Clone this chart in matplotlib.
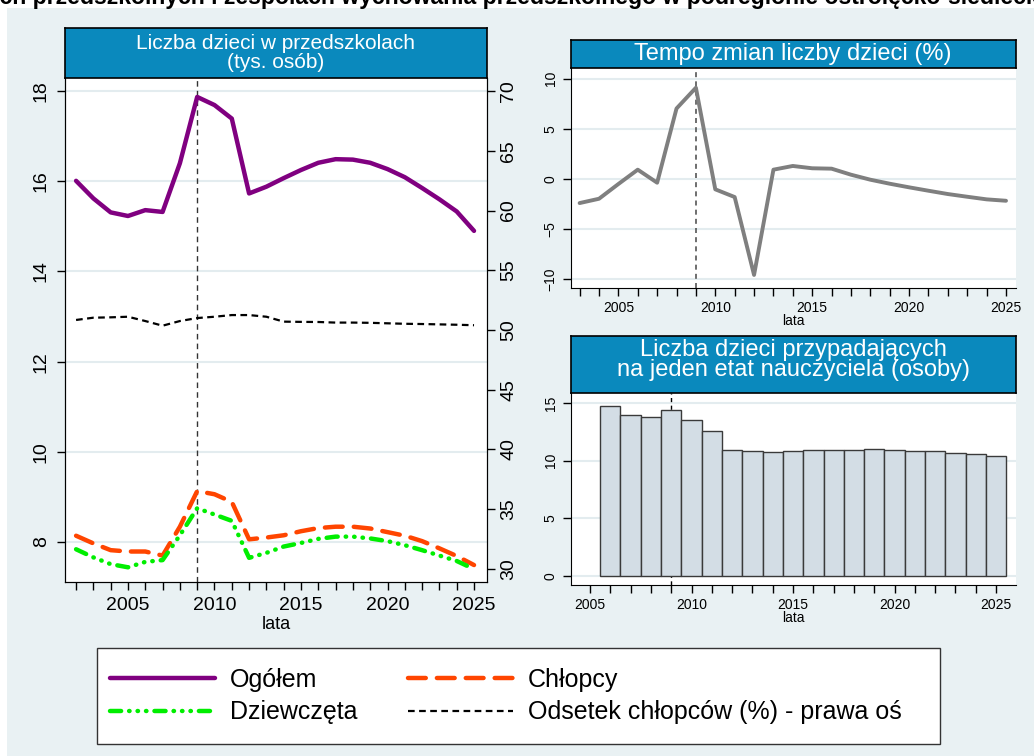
"""
Preschool children in the podregion: counts, growth rate and children per teacher
"""
import matplotlib
matplotlib.use("Agg")
import matplotlib.pyplot as plt
from matplotlib.patches import Rectangle
from matplotlib.lines import Line2D

# ---- data ----
years = list(range(2002, 2026))
ogolem = [16.01, 15.62, 15.31, 15.23, 15.36, 15.32, 16.40, 17.87, 17.69, 17.39,
          15.73, 15.88, 16.07, 16.25, 16.41, 16.49, 16.48, 16.41, 16.27, 16.09,
          15.85, 15.60, 15.33, 14.90]
chlopcy = [8.14, 7.97, 7.82, 7.79, 7.79, 7.70, 8.34, 9.13, 9.06, 8.89,
           8.06, 8.10, 8.15, 8.24, 8.31, 8.34, 8.34, 8.30, 8.22, 8.14,
           8.02, 7.86, 7.69, 7.49]
dziewczeta = [7.84, 7.66, 7.51, 7.44, 7.56, 7.60, 8.15, 8.75, 8.61, 8.47,
              7.65, 7.76, 7.90, 7.98, 8.07, 8.12, 8.12, 8.08, 8.02, 7.93,
              7.82, 7.70, 7.58, 7.40]
odsetek = [50.84, 51.03, 51.06, 51.11, 50.75, 50.36, 50.75, 51.00, 51.11, 51.25,
           51.25, 51.11, 50.70, 50.68, 50.67, 50.62, 50.62, 50.60, 50.56, 50.52,
           50.50, 50.47, 50.44, 50.40]

years_tempo = list(range(2003, 2026))
tempo = [-2.40, -1.97, -0.50, 0.93, -0.37, 7.03, 9.10, -1.03, -1.80, -9.57,
         0.93, 1.30, 1.07, 1.03, 0.43, -0.07, -0.47, -0.83, -1.17, -1.50,
         -1.77, -2.03, -2.17]

years_etat = list(range(2006, 2026))
etat = [14.74, 13.95, 13.84, 14.39, 13.52, 12.56, 10.90, 10.81, 10.76, 10.87,
        10.90, 10.96, 10.96, 11.02, 10.96, 10.87, 10.87, 10.70, 10.55, 10.38]

marker_year = 2009

main_title = ("Liczba dzieci w przedszkolach, oddziałach przedszkolnych i zespołach "
              "wychowania przedszkolnego w podregionie ostrołęcko-siedleckim")
title_prefix = "Liczba dzieci w przedszkolach, oddziała"

W, H = 1034, 756
PANEL_BG = "#e9f1f3"
BOX_BLUE = "#0a89bd"
GRID = "#e3ecef"


def fx(px):
    return px / W


def fy(py):
    return 1 - py / H


def title_box(fig, left, top, right, bottom, text, size, spacing, ypos=0.5):
    bx = fig.add_axes([fx(left), fy(bottom), fx(right - left), (bottom - top) / H])
    bx.set_facecolor(BOX_BLUE)
    bx.set_xticks([])
    bx.set_yticks([])
    for s in bx.spines.values():
        s.set_color("black")
        s.set_linewidth(1.2)
    bx.text(0.5, ypos, text, color="white", fontsize=size, ha="center",
            va="center", linespacing=spacing, transform=bx.transAxes)
    return bx


def style_axis(ax, xlim, ylim, yticks, xminor, size, pad=3.5):
    ax.set_xlim(*xlim)
    ax.set_ylim(*ylim)
    ax.set_yticks(yticks)
    ax.set_xticks([2005, 2010, 2015, 2020, 2025])
    ax.set_xticks(xminor, minor=True)
    ax.tick_params(axis="both", which="both", length=6, width=1, color="black",
                   labelsize=size, direction="out", pad=pad)
    ax.tick_params(axis="y", labelrotation=90)
    for lab in ax.get_yticklabels():
        lab.set_va("center")
    ax.grid(axis="y", color=GRID, linewidth=1.5)
    ax.set_axisbelow(True)
    ax.spines["top"].set_visible(False)
    ax.spines["right"].set_visible(False)


def main():
    plt.rcParams["font.family"] = ["Liberation Sans", "DejaVu Sans"]

    fig = plt.figure(figsize=(W / 100, H / 100), dpi=100)
    fig.patch.set_facecolor("white")
    fig.patches.append(Rectangle((fx(7), 0), 1 - fx(7), fy(8), transform=fig.transFigure,
                                 facecolor=PANEL_BG, edgecolor="none", zorder=-10))

    # title at the very top, clipped by the image edge as in the source
    renderer = fig.canvas.get_renderer()
    probe = fig.text(0, 0, title_prefix, fontsize=16.6, fontweight="bold")
    shift = probe.get_window_extent(renderer).width / W
    probe.remove()
    fig.text(-shift, fy(4), main_title, fontsize=16.6, fontweight="bold",
             ha="left", va="baseline")

    # ---- left: counts ----
    ax = fig.add_axes([fx(65), fy(582), fx(487 - 65), (582 - 78) / H])
    style_axis(ax, (2001.36, 2025.75), (7.114, 18.29), [8, 10, 12, 14, 16, 18],
               years, 14, pad=5)
    ax.spines["right"].set_visible(True)
    ax.set_xlabel("lata", fontsize=13, labelpad=1)
    ax.axvline(marker_year, color="#333333", linewidth=1, dashes=(4, 3), zorder=1)
    ax.plot(years, ogolem, color="#800080", linewidth=3.2,
            solid_capstyle="round", zorder=3)
    ax.plot(years, chlopcy, color="#ff4500", linewidth=3.2,
            dashes=(4, 2.5), dash_capstyle="round", zorder=3)
    ax.plot(years, dziewczeta, color="#00ee00", linewidth=3.2,
            dashes=(2.5, 1.8, 0.1, 1.8, 0.1, 1.8, 0.1, 1.8),
            dash_capstyle="round", zorder=3)
    ax2 = ax.twinx()
    ax2.set_ylim(28.91, 71.09)
    ax2.set_yticks([30, 35, 40, 45, 50, 55, 60, 65, 70])
    ax2.tick_params(axis="y", length=6, width=1, labelsize=14, labelrotation=90)
    for lab in ax2.get_yticklabels():
        lab.set_va("center")
    ax2.spines["top"].set_visible(False)
    ax2.plot(years, odsetek, color="black", linewidth=1.6, dashes=(3, 2))
    title_box(fig, 65, 28, 487, 78, "Liczba dzieci w przedszkolach\n(tys. osób)", 15, 1.0)

    # ---- top right: growth rate ----
    at = fig.add_axes([fx(570.7), fy(288), fx(1015.7 - 570.7), (288 - 68.3) / H])
    style_axis(at, (2002.54, 2025.5), (-10.87, 11.04), [-10, -5, 0, 5, 10],
               years_tempo, 10)
    at.set_xlabel("lata", fontsize=10, labelpad=-1)
    at.axvline(marker_year, color="#555555", linewidth=1.2, dashes=(3, 2.5), zorder=1)
    at.plot(years_tempo, tempo, color="#7f7f7f", linewidth=2.8,
            solid_capstyle="round", solid_joinstyle="round", zorder=3)
    title_box(fig, 570.7, 40, 1015.7, 68.3, "Tempo zmian liczby dzieci (%)", 17, 1.0)

    # ---- bottom right: children per teacher ----
    ab = fig.add_axes([fx(570.7), fy(585), fx(1016 - 570.7), (585 - 393.3) / H])
    style_axis(ab, (2004.05, 2025.98), (-0.81, 15.87), [0, 5, 10, 15],
               list(range(2005, 2026)), 10)
    ab.set_xlabel("lata", fontsize=10, labelpad=-1)
    ab.axvline(marker_year, color="black", linewidth=1, dashes=(3, 2.5), zorder=1)
    ab.bar(years_etat, etat, width=1.0, color="#d3dde5", edgecolor="#3a3a3a",
           linewidth=1.0, zorder=2)
    title_box(fig, 570.7, 336, 1016, 393.3,
              "Liczba dzieci przypadających\nna jeden etat nauczyciela (osoby)", 17, 0.85,
              ypos=0.58)

    # ---- legend ----
    fig.patches.append(Rectangle((fx(97), fy(744)), fx(940 - 97), (744 - 648) / H,
                                 transform=fig.transFigure, facecolor="white",
                                 edgecolor="#333333", linewidth=1, zorder=0))
    handles = [
        Line2D([], [], color="#800080", linewidth=3.2, solid_capstyle="round"),
        Line2D([], [], color="#00ee00", linewidth=3.2,
               dashes=(2.5, 1.8, 0.1, 1.8, 0.1, 1.8, 0.1, 1.8), dash_capstyle="round"),
        Line2D([], [], color="#ff4500", linewidth=3.2, dashes=(4, 2.5),
               dash_capstyle="round"),
        Line2D([], [], color="black", linewidth=1.6, dashes=(3, 2)),
    ]
    labels = ["Ogółem", "Dziewczęta", "Chłopcy", "Odsetek chłopców (%) - prawa oś"]
    fig.legend(handles, labels, ncol=2, loc="center left",
               bbox_to_anchor=(fx(110), fy(696)), frameon=False, fontsize=18,
               handlelength=4.2, handletextpad=0.6, columnspacing=2.0,
               labelspacing=0.35, borderpad=0, borderaxespad=0)

    fig.savefig("out.png", dpi=100, facecolor=fig.get_facecolor())


if __name__ == "__main__":
    main()
